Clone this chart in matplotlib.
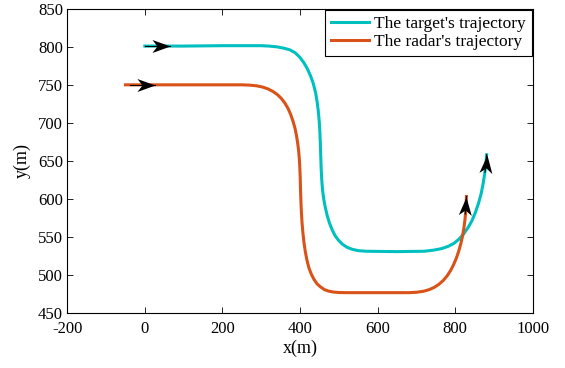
import numpy as np
import matplotlib
matplotlib.use("Agg")
import matplotlib.pyplot as plt
from matplotlib.path import Path
from matplotlib.markers import MarkerStyle
from matplotlib.transforms import Affine2D

# ---- data ----
target_x = [0, 100, 200, 300, 320, 340, 358, 374, 388, 400, 410, 419, 427, 434, 440, 444,
            447, 449.5, 451, 452.5, 453.5, 454.5, 456, 458, 461, 465, 470, 476, 483, 491,
            500, 510, 522, 535, 550, 570, 650, 720, 745, 765, 782, 797, 810, 822, 833, 843,
            852, 860, 867, 872, 876, 879, 881]
target_y = [801, 801, 801.5, 801.5, 801, 800, 798.3, 796, 792, 786, 779, 771, 762, 752, 740, 728,
            716, 702, 690, 672, 655, 640, 625, 612, 600, 589, 578, 568, 559, 551,
            545, 540, 536, 533.5, 531.8, 531, 530.5, 531, 532.5, 534.5, 537.5, 541.5, 547, 554, 562, 571,
            582, 594, 607, 620, 633, 646, 658]

radar_x = [-50, 0, 100, 200, 250, 270, 288, 304, 318, 331, 342, 352, 361, 369, 376, 382,
           387, 391, 394, 396.5, 398.3, 399.5, 400.5, 401.3, 402.3, 403.6, 405.3, 407.5, 410.3,
           413.8, 418, 423, 429, 436, 444, 453, 463, 474, 486, 500, 520, 600, 680, 700, 718,
           733, 746, 758, 769, 779, 788, 796, 803, 809, 814.5, 819, 822.5, 825.3, 827.2, 828.4, 829]
radar_y = [750, 750, 750, 750, 750, 749.6, 748.7, 747, 744.5, 741, 737, 732, 726, 719, 711, 702,
           693, 683, 673, 663, 652, 641, 628, 612, 597, 582, 568, 555, 542,
           530, 519, 509, 501, 494, 488, 484, 480.5, 478.5, 477.3, 476.7, 476.5, 476.5, 476.5, 477, 478.3,
           480.5, 483.5, 487.5, 492.5, 498.5, 505.5, 513.5, 522, 531, 541, 551, 562, 573, 584, 594, 603]

# arrows: (tail_x, tail_y, tip_x, tip_y)
arrow_tail_x = [0, -38, 877, 826]
arrow_tail_y = [801, 750, 635, 580]
arrow_tip_x = [64, 27, 881, 829]
arrow_tip_y = [801, 750, 658, 603]

series_labels = ["The target's trajectory", "The radar's trajectory"]
series_colors = ["#00BFBF", "#D95319"]

xticks = [-200, 0, 200, 400, 600, 800, 1000]
yticks = [450, 500, 550, 600, 650, 700, 750, 800, 850]

plt.rcParams['font.family'] = ['Liberation Serif', 'DejaVu Serif']
plt.rcParams['axes.unicode_minus'] = False

fig = plt.figure(figsize=(5.65, 3.68), dpi=100)
ax = fig.add_axes([0.119, 0.150, 0.824, 0.826])

ax.plot(target_x, target_y, color=series_colors[0], lw=2.2, label=series_labels[0], zorder=2,
        solid_joinstyle='round')
ax.plot(radar_x, radar_y, color=series_colors[1], lw=2.2, label=series_labels[1], zorder=2,
        solid_joinstyle='round')

ax.set_xlim(-200, 1000)
ax.set_ylim(450, 850)
ax.set_xticks(xticks)
ax.set_yticks(yticks)
ax.tick_params(direction='in', top=True, right=True, length=4, width=0.6,
               labelsize=12, pad=3)
ax.tick_params(axis='x', pad=6)
for s in ax.spines.values():
    s.set_linewidth(0.8)

# arrows
head = Path([(0, 0), (-1, 0.36), (-0.72, 0), (-1, -0.36), (0, 0)],
            [Path.MOVETO, Path.LINETO, Path.LINETO, Path.LINETO, Path.CLOSEPOLY])
fig.canvas.draw()
for x0, y0, x1, y1 in zip(arrow_tail_x, arrow_tail_y, arrow_tip_x, arrow_tip_y):
    ax.plot([x0, x1], [y0, y1], color='black', lw=0.8, zorder=3)
    p0 = ax.transData.transform((x0, y0))
    p1 = ax.transData.transform((x1, y1))
    ang = np.degrees(np.arctan2(p1[1] - p0[1], p1[0] - p0[0]))
    m = MarkerStyle(head, transform=Affine2D().rotate_deg(ang))
    ax.plot([x1], [y1], marker=m, markersize=26, color='black', markeredgewidth=0, zorder=4)

ax.set_xlabel('x(m)', fontsize=13, labelpad=2)
ax.set_ylabel('y(m)', fontsize=13, labelpad=5)

leg = ax.legend(loc='upper right', fontsize=12.5, frameon=True, fancybox=False,
                edgecolor='black', framealpha=1, borderaxespad=0.05,
                handlelength=2.2, handletextpad=0.3, labelspacing=0.12,
                borderpad=0.35)
leg.get_frame().set_linewidth(0.8)

fig.savefig('out.png', dpi=100)
